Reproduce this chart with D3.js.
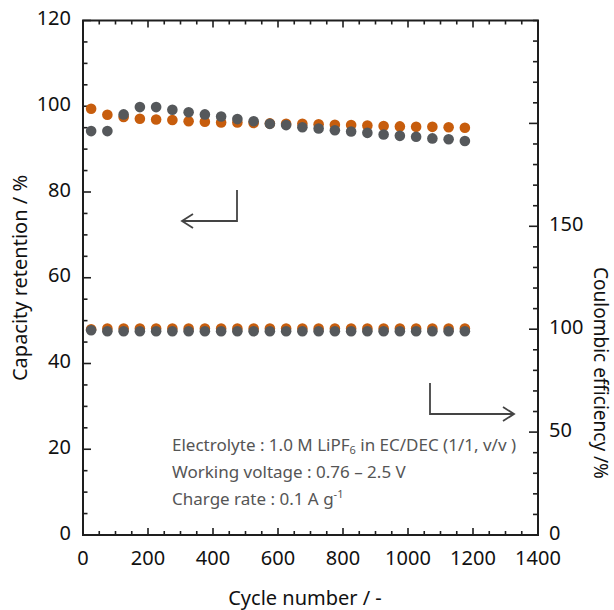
<!DOCTYPE html>
<html>
<head>
<meta charset="utf-8">
<script src="https://cdn.jsdelivr.net/npm/d3@7/dist/d3.min.js"></script>
<style>
  html, body { margin: 0; padding: 0; background: #fff; }
  svg text { font-family: "Noto Sans", "Open Sans", sans-serif; }
</style>
</head>
<body>
<svg id="chart" width="614" height="610"></svg>
<script>
// Cycle numbers at which capacity and coulombic efficiency were sampled
const cycles = [25, 75, 125, 175, 225, 275, 325, 375, 425, 475, 525, 575,
                625, 675, 725, 775, 825, 875, 925, 975, 1025, 1075, 1125, 1175];

// Capacity retention (%) — left axis
const capacityOrange = [99.4, 98.0, 97.5, 97.1, 96.9, 96.8, 96.5, 96.4, 96.2, 96.2, 96.1, 96.0,
                        95.9, 95.9, 95.8, 95.7, 95.6, 95.5, 95.4, 95.3, 95.2, 95.2, 95.1, 95.0];
const capacityGray   = [94.2, 94.2, 98.1, 99.8, 99.8, 99.2, 98.6, 98.1, 97.6, 97.0, 96.5, 95.9,
                        95.6, 95.1, 94.8, 94.4, 94.1, 93.8, 93.4, 93.1, 92.9, 92.5, 92.3, 91.9];

// Coulombic efficiency (%) — right axis
const ceOrange = [100.0, 100.3, 100.3, 100.3, 100.3, 100.3, 100.3, 100.3, 100.3, 100.3, 100.3, 100.3,
                  100.3, 100.3, 100.3, 100.3, 100.3, 100.3, 100.3, 100.3, 100.3, 100.3, 100.3, 100.3];
const ceGray   = [99.5, 99.0, 99.0, 99.0, 99.0, 99.0, 99.0, 99.0, 99.0, 99.0, 99.0, 99.0,
                  99.0, 99.0, 99.0, 99.0, 99.0, 99.0, 99.0, 99.0, 99.0, 99.0, 99.0, 99.0];

// Axis ticks and labels
const xMajorTicks = [0, 200, 400, 600, 800, 1000, 1200, 1400];
const yLeftMajorTicks = [0, 20, 40, 60, 80, 100, 120];
const yRightMajorTicks = [0, 50, 100, 150, 200];
const yRightLabels = [0, 50, 100, 150];

const COLOR_ORANGE = "#c75d0d";
const COLOR_GRAY = "#55585b";
const AXIS = "#1e1e1e";

const svg = d3.select("#chart");
const L = 83, R = 538, T = 20.5, B = 535;

const x = d3.scaleLinear().domain([0, 1400]).range([L, R]);
const yL = d3.scaleLinear().domain([0, 120]).range([B, T]);
const yR = d3.scaleLinear().domain([0, 250]).range([B, T]);

// Tick marks drawn inward on all four sides
const g = svg.append("g").attr("stroke", AXIS).attr("stroke-width", 1.6);

const xMinor = d3.range(0, 1401, 50).filter(v => !xMajorTicks.includes(v));
[...xMajorTicks.map(v => [v, 7]), ...xMinor.map(v => [v, 4])].forEach(([v, len]) => {
  g.append("line").attr("x1", x(v)).attr("x2", x(v)).attr("y1", B).attr("y2", B - len);
  g.append("line").attr("x1", x(v)).attr("x2", x(v)).attr("y1", T).attr("y2", T + len);
});

const yLMinor = d3.range(0, 121, 5).filter(v => !yLeftMajorTicks.includes(v));
[...yLeftMajorTicks.map(v => [v, 8]), ...yLMinor.map(v => [v, 4.5])].forEach(([v, len]) => {
  g.append("line").attr("x1", L).attr("x2", L + len).attr("y1", yL(v)).attr("y2", yL(v));
});

const yRMinor = d3.range(0, 251, 10).filter(v => !yRightMajorTicks.includes(v));
[...yRightMajorTicks.map(v => [v, 9]), ...yRMinor.map(v => [v, 5])].forEach(([v, len]) => {
  g.append("line").attr("x1", R).attr("x2", R - len).attr("y1", yR(v)).attr("y2", yR(v));
});

// Frame
svg.append("rect").attr("x", L).attr("y", T).attr("width", R - L).attr("height", B - T)
  .attr("fill", "none").attr("stroke", AXIS).attr("stroke-width", 2);

// Tick labels
const labelFont = 20;
svg.append("g").selectAll("text").data(xMajorTicks).join("text")
  .attr("x", d => x(d)).attr("y", 565).attr("text-anchor", "middle")
  .attr("font-size", labelFont).attr("fill", "#111").text(d => d);

svg.append("g").selectAll("text").data(yLeftMajorTicks).join("text")
  .attr("x", 71).attr("y", d => yL(d) + 4.5).attr("text-anchor", "end")
  .attr("font-size", labelFont).attr("fill", "#111").text(d => d);

svg.append("g").selectAll("text").data(yRightLabels).join("text")
  .attr("x", 549).attr("y", d => yR(d) + 4.5).attr("text-anchor", "start")
  .attr("font-size", labelFont).attr("fill", "#111").text(d => d);

// Axis titles
svg.append("text").attr("x", 305).attr("y", 605).attr("text-anchor", "middle")
  .attr("font-size", labelFont).attr("fill", "#111").text("Cycle number / -");
svg.append("text").attr("transform", "translate(27,278) rotate(-90)").attr("text-anchor", "middle")
  .attr("font-size", labelFont).attr("fill", "#111").text("Capacity retention / %");
svg.append("text").attr("transform", "translate(594,373) rotate(90)").attr("text-anchor", "middle")
  .attr("font-size", 19).attr("fill", "#111").text("Coulombic efficiency /%");

// Data points: orange series first, gray on top
const r = 5.3;
function dots(values, yScale, color) {
  svg.append("g").selectAll("circle").data(values).join("circle")
    .attr("cx", (d, i) => x(cycles[i])).attr("cy", d => yScale(d))
    .attr("r", r).attr("fill", color);
}
dots(ceOrange, yR, COLOR_ORANGE);
dots(ceGray, yR, COLOR_GRAY);
dots(capacityOrange, yL, COLOR_ORANGE);
dots(capacityGray, yL, COLOR_GRAY);

// Arrows pointing to each series' axis
const arrows = svg.append("g").attr("stroke", "#444").attr("stroke-width", 1.8).attr("fill", "none");
arrows.append("path").attr("d", "M237,190 V221 H182");
arrows.append("path").attr("d", "M193,214 L182,221 L193,228");
arrows.append("path").attr("d", "M430,383 V414 H514");
arrows.append("path").attr("d", "M503,407 L514,414 L503,421");

// Test conditions
const note = svg.append("g").attr("font-size", 17).attr("fill", "#555");
const t1 = note.append("text").attr("x", 172).attr("y", 451);
t1.append("tspan").text("Electrolyte : 1.0 M LiPF");
t1.append("tspan").attr("font-size", 11).attr("dy", 3).text("6");
t1.append("tspan").attr("dy", -3).text(" in EC/DEC (1/1, v/v )");
note.append("text").attr("x", 172).attr("y", 478).text("Working voltage : 0.76 – 2.5 V");
const t3 = note.append("text").attr("x", 172).attr("y", 505);
t3.append("tspan").text("Charge rate : 0.1  A g");
t3.append("tspan").attr("font-size", 11).attr("dy", -7).text("-1");
</script>
</body>
</html>
